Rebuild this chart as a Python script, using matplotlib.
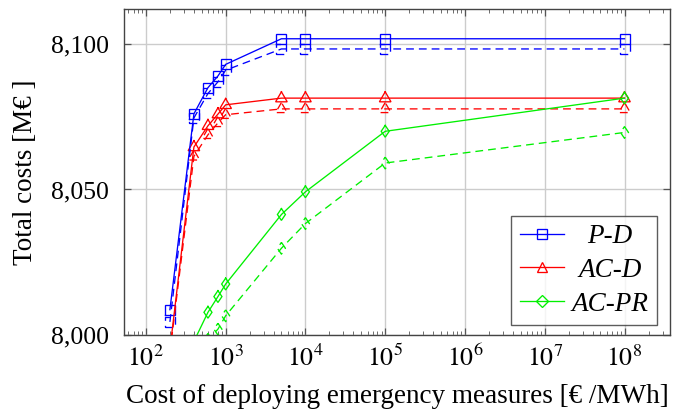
import numpy as np
import matplotlib
matplotlib.use("Agg")
import matplotlib.pyplot as plt
from matplotlib import transforms
from matplotlib.lines import Line2D
from matplotlib.ticker import LogLocator, FixedLocator, FuncFormatter, NullFormatter

plt.rcParams['font.family'] = ['Liberation Serif', 'DejaVu Serif']
plt.rcParams['mathtext.fontset'] = 'stix'
plt.rcParams['lines.scale_dashes'] = False

# Cost of emergency measures [€/MWh]
cost = [200, 400, 600, 800, 1000, 5000, 1e4, 1e5, 1e8]

# Total costs [M€], solid = first variant, dashed = second variant
pd_solid = [8008.7, 8076.0, 8085.0, 8089.0, 8093.0, 8101.8, 8101.8, 8101.8, 8101.8]
pd_dash = [8004.5, 8074.6, 8083.0, 8087.0, 8091.0, 8098.3, 8098.3, 8098.3, 8098.3]
acd_solid = [7995.0, 8064.6, 8071.9, 8075.9, 8079.1, 8081.4, 8081.4, 8081.4, 8081.4]
acd_dash = [7994.0, 8061.4, 8068.8, 8072.9, 8075.7, 8077.7, 8077.7, 8077.7, 8077.7]
acpr_solid = [7985.0, 7997.8, 8007.8, 8013.2, 8017.5, 8041.4, 8049.2, 8070.0, 8081.4]
acpr_dash = [7980.0, 7993.0, 7998.5, 8002.0, 8006.6, 8029.8, 8038.3, 8059.1, 8069.6]

labels = ['P-D', 'AC-D', 'AC-PR']
colors = ['#0000ff', '#ff0000', '#00f000']
markers = ['s', '^', 'D']

FS = 18.5
LFS = 19.5

fig = plt.figure(figsize=(6.73, 4.13), dpi=100)
ax = fig.add_axes([0.1843, 0.1889, 0.8112, 0.7891])
ax.set_xscale('log')
ax.set_xlim(10 ** 1.726, 10 ** 8.57)
ax.set_ylim(8000, 8112)

lw = 0.95
dash = (0, (5.6, 3.6))

# marker outlines in points (half-size units)
sq = np.array([[-1, -1], [1, -1], [1, 1], [-1, 1], [-1, -1]]) * 3.6
tri = np.array([[0, 1.2], [-1.1, -0.7], [1.1, -0.7], [0, 1.2]]) * 3.8
dia = np.array([[0, 1.25], [0.85, 0], [0, -1.25], [-0.85, 0], [0, 1.25]]) * 3.4
shapes = [sq, tri, dia]


def draw_markers(xs, ys, shape, color, ls):
    for x, y in zip(xs, ys):
        tr = (transforms.Affine2D().scale(1 / 72.0) + fig.dpi_scale_trans
              + transforms.ScaledTranslation(x, y, ax.transData))
        ln = Line2D(shape[:, 0], shape[:, 1], transform=tr, color=color,
                    lw=lw, linestyle=ls, solid_joinstyle='miter')
        ln.set_clip_path(ax.patch)
        ax.add_line(ln)


series = [(pd_solid, pd_dash), (acd_solid, acd_dash), (acpr_solid, acpr_dash)]
for (s, d), c, shp in zip(series, colors, shapes):
    ax.plot(cost, d, color=c, lw=lw, linestyle=dash, zorder=3)
    draw_markers(cost, d, shp, c, dash)
    ax.plot(cost, s, color=c, lw=lw, zorder=4)
    draw_markers(cost, s, shp, c, '-')

ax.yaxis.set_major_locator(FixedLocator([8000, 8050, 8100]))
ax.yaxis.set_major_formatter(FuncFormatter(lambda v, p: f"{v:,.0f}"))
ax.xaxis.set_major_locator(FixedLocator([1e2, 1e3, 1e4, 1e5, 1e6, 1e7, 1e8]))
ax.xaxis.set_major_formatter(FuncFormatter(lambda v, p: r"$10^{%d}$" % round(np.log10(v))))
ax.xaxis.set_minor_locator(LogLocator(base=10, subs=np.arange(2, 10), numticks=20))
ax.xaxis.set_minor_formatter(NullFormatter())

ax.grid(True, which='major', color='#cccccc', lw=1.0, zorder=0)
ax.set_axisbelow(True)
ax.tick_params(which='both', direction='in', top=True, right=True,
               color='#555555', labelsize=FS)
ax.tick_params(axis='y', pad=11)
ax.tick_params(axis='x', pad=7)
ax.tick_params(which='major', length=5, width=0.9)
ax.tick_params(which='minor', length=3, width=0.6)
for sp in ax.spines.values():
    sp.set_color('#444444')
    sp.set_linewidth(1.0)

ax.set_ylabel('Total costs [M€ ]', fontsize=LFS)
ax.set_xlabel('Cost of deploying emergency measures [€ /MWh]', fontsize=LFS)
ax.yaxis.set_label_coords(-0.157, 0.5)
ax.xaxis.set_label_coords(0.5, -0.15)

handles = [Line2D([], [], color=c, lw=lw, marker=m, markersize=ms,
                  markerfacecolor='none', markeredgecolor=c, markeredgewidth=lw)
           for c, m, ms in zip(colors, markers, [7.5, 7, 6.5])]
leg = ax.legend(handles, labels, loc='lower right',
                prop={'style': 'italic', 'size': 19.5, 'family': 'Liberation Serif'},
                frameon=True, fancybox=False, edgecolor='#333333',
                handlelength=1.65, borderpad=0.32, labelspacing=0.32,
                bbox_to_anchor=(0.976, 0.03), handletextpad=0.25, borderaxespad=0)
leg.get_frame().set_linewidth(1.0)

# center the legend entries within their column
fig.canvas.draw()
renderer = fig.canvas.get_renderer()
texts = leg.get_texts()
widths = [t.get_window_extent(renderer).width for t in texts]
wmax = max(widths)
for t, w in zip(texts, widths):
    t.set_x((wmax - w) / 2)

fig.savefig('out.png', dpi=100)
